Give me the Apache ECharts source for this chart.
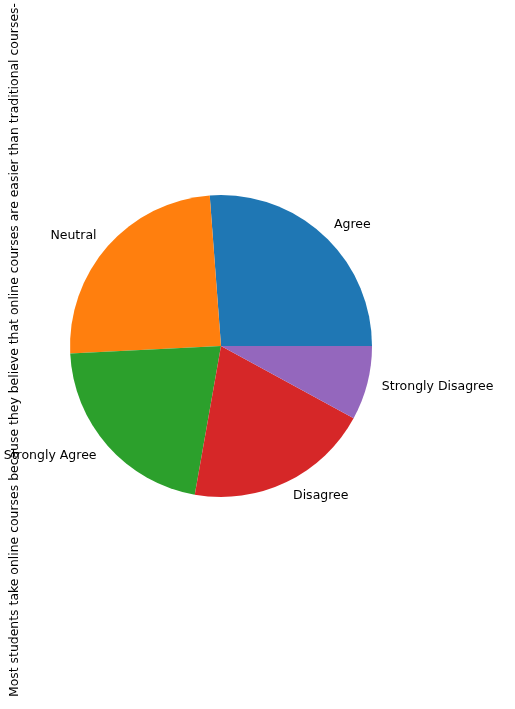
<!DOCTYPE html>
<html>
<head>
<meta charset="utf-8">
<script src="https://cdn.jsdelivr.net/npm/echarts@6/dist/echarts.min.js"></script>
<style>
  html, body { margin: 0; padding: 0; background: #fff; }
  #main { width: 515px; height: 709px; }
</style>
</head>
<body>
<div id="main"></div>
<script>
// 数据
var categories = ['Agree', 'Neutral', 'Strongly Agree', 'Disagree', 'Strongly Disagree']
var counts = [33, 31, 27, 25, 10]
var colors = ['#1f77b4', '#ff7f0e', '#2ca02c', '#d62728', '#9467bd']
var yLabel = 'Most students take online courses because they believe that online courses are easier than traditional courses-'

var pieData = []
for (var i = 0; i < categories.length; i++) {
  pieData.push({value: counts[i], name: categories[i], itemStyle: {color: colors[i]}})
}

var chart = echarts.init(document.getElementById('main'))
chart.setOption({
  animation: false,
  graphic: [{
    type: 'text',
    x: 15,
    y: 350,
    rotation: Math.PI / 2,
    style: {
      text: yLabel,
      font: '12.43px "DejaVu Sans"',
      fill: '#000',
      align: 'center',
      verticalAlign: 'middle'
    }
  }],
  series: [{
    type: 'pie',
    center: [221, 346],
    radius: 151,
    startAngle: 0,
    clockwise: false,
    avoidLabelOverlap: false,
    minShowLabelAngle: 0,
    emphasis: {disabled: true},
    itemStyle: {borderWidth: 0},
    label: {
      show: true,
      position: 'outside',
      fontFamily: 'DejaVu Sans',
      fontSize: 12.5,
      color: '#000',
      padding: [3, 0, 0, 0],
      distanceToLabelLine: 0
    },
    labelLine: {show: false, length: 15, length2: 0},
    data: pieData
  }]
})
</script>
</body>
</html>
